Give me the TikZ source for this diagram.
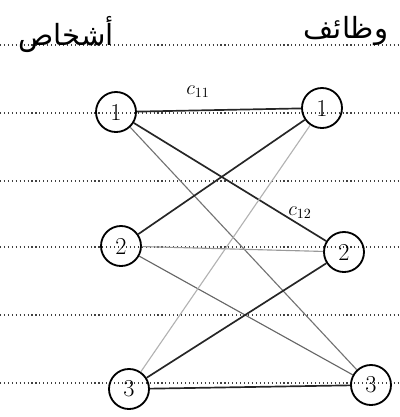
\documentclass[tikz,border=0pt]{standalone}
\usepackage{fontspec}
\newfontfamily\arabicfont[Script=Arabic]{DejaVu Sans}
\TeXXeTstate=1
\usepackage{tikz}

\begin{document}
\begin{tikzpicture}[
  x=0.025cm, y=-0.025cm,
  vtx/.style={draw, circle, line width=1.3pt, minimum size=10mm, inner sep=0pt, font=\LARGE},
  head/.style={font=\arabicfont\huge},
  cost/.style={line width=1.2pt, black!85},
  faint/.style={line width=0.8pt, black!40},
  ruled/.style={dotted, thick, black!75},
  lbl/.style={font=\Large}
]
\useasboundingbox (0,0) rectangle (400,417);
% ruled paper
\foreach \y in {45,113,181,247,315,383}
  \draw[ruled] (0,\y) -- (400,\y);

\node[head] (persons) at (66,34) {\beginR أشخاص\endR};
\node[head] (jobs) at (346,31) {\beginR وظائف\endR};

\node[vtx] (P1) at (116,112) {1};
\node[vtx] (P2) at (121,246) {2};
\node[vtx] (P3) at (129,389) {3};
\node[vtx] (J1) at (322,108) {1};
\node[vtx] (J2) at (344,252) {2};
\node[vtx] (J3) at (371,385) {3};

\draw[cost] (P1) -- (J1);
\draw[cost] (P1) -- (J2);
\draw[faint, black!55] (P1) -- (J3);
\draw[cost] (P2) -- (J1);
\draw[faint] (P2) -- (J2);
\draw[faint, black!60] (P2) -- (J3);
\draw[faint, black!30] (P3) -- (J1);
\draw[cost] (P3) -- (J2);
\draw[cost] (P3) -- (J3);

\node[lbl] (c11) at (198,92) {$c_{11}$};
\node[lbl] (c12) at (300,213) {$c_{12}$};
\end{tikzpicture}
\end{document}
